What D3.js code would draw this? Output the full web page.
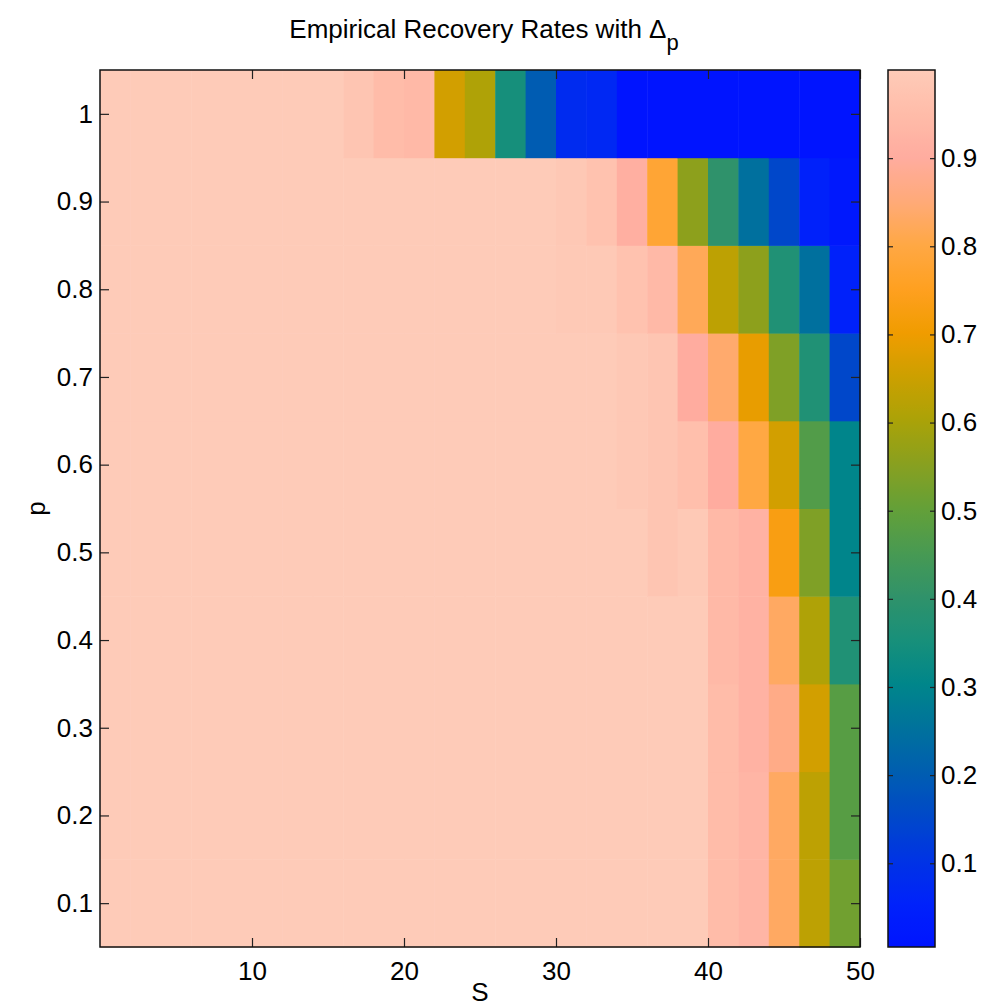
<!DOCTYPE html>
<html>
<head>
<meta charset="utf-8">
<script src="https://cdn.jsdelivr.net/npm/d3@7"></script>
<style>
  body { margin: 0; background: #fff; }
  text { font-family: "Liberation Sans", Arial, Helvetica, sans-serif; fill: #000; }
</style>
</head>
<body>
<script>

// column centres of S (each cell is 2 wide) and the p rows
var sValues = [1, 3, 5, 7, 9, 11, 13, 15, 17, 19, 21, 23, 25, 27, 29, 31, 33, 35, 37, 39, 41, 43, 45, 47, 49];
var pValues = [0.1, 0.2, 0.3, 0.4, 0.5, 0.6, 0.7, 0.8, 0.9, 1.0];

// recovery rates, one array per p, read left to right along S
var rateP01 = [1, 1, 1, 1, 1, 1, 1, 1, 1, 1, 1, 1, 1, 1, 1, 1, 1, 1, 1, 1, 0.95, 0.93, 0.83, 0.63, 0.52];
var rateP02 = [1, 1, 1, 1, 1, 1, 1, 1, 1, 1, 1, 1, 1, 1, 1, 1, 1, 1, 1, 1, 0.95, 0.93, 0.83, 0.63, 0.48];
var rateP03 = [1, 1, 1, 1, 1, 1, 1, 1, 1, 1, 1, 1, 1, 1, 1, 1, 1, 1, 1, 1, 0.95, 0.92, 0.87, 0.66, 0.48];
var rateP04 = [1, 1, 1, 1, 1, 1, 1, 1, 1, 1, 1, 1, 1, 1, 1, 1, 1, 1, 1, 1, 0.94, 0.92, 0.83, 0.61, 0.37];
var rateP05 = [1, 1, 1, 1, 1, 1, 1, 1, 1, 1, 1, 1, 1, 1, 1, 1, 1, 1, 0.98, 0.995, 0.94, 0.92, 0.73, 0.54, 0.30];
var rateP06 = [1, 1, 1, 1, 1, 1, 1, 1, 1, 1, 1, 1, 1, 1, 1, 1, 1, 0.99, 0.98, 0.96, 0.90, 0.80, 0.66, 0.47, 0.30];
var rateP07 = [1, 1, 1, 1, 1, 1, 1, 1, 1, 1, 1, 1, 1, 1, 1, 1, 1, 0.99, 0.98, 0.90, 0.84, 0.69, 0.54, 0.37, 0.15];
var rateP08 = [1, 1, 1, 1, 1, 1, 1, 1, 1, 1, 1, 1, 1, 1, 1, 0.995, 0.995, 0.97, 0.94, 0.82, 0.63, 0.56, 0.37, 0.25, 0.05];
var rateP09 = [1, 1, 1, 1, 1, 1, 1, 1, 1, 1, 1, 1, 1, 1, 1, 0.99, 0.97, 0.91, 0.78, 0.56, 0.40, 0.25, 0.15, 0.05, 0.02];
var rateP10 = [1, 1, 1, 1, 1, 1, 1, 1, 0.98, 0.95, 0.94, 0.66, 0.61, 0.35, 0.20, 0.08, 0.07, 0.005, 0.005, 0.005, 0.005, 0.005, 0.005, 0.005, 0.005];

var rateRows = [rateP01, rateP02, rateP03, rateP04, rateP05, rateP06, rateP07, rateP08, rateP09, rateP10];

// tick labels
var sTicks = [10, 20, 30, 40, 50];
var pTicks = [0.1, 0.2, 0.3, 0.4, 0.5, 0.6, 0.7, 0.8, 0.9, 1];
var cbTicks = [0.1, 0.2, 0.3, 0.4, 0.5, 0.6, 0.7, 0.8, 0.9];

// colormap (blue -> teal -> green -> orange -> peach)
var cmapStops = [0, 0.05, 0.1, 0.15, 0.2, 0.25, 0.3, 0.35, 0.4, 0.45, 0.5, 0.55, 0.6, 0.65, 0.7, 0.75, 0.8, 0.85, 0.9, 0.95, 1];
var cmapColors = ["#0014ff", "#0022fa", "#0034e4", "#0049c8", "#005eb0", "#00729c", "#00868a", "#18907a", "#30926a",
                  "#489a52", "#64a038", "#88a020", "#aaa208", "#cca000", "#f09c00", "#ffa020", "#ffa844", "#ffaa78",
                  "#ffac9f", "#ffbca9", "#fecbb8"];

var margin = {top: 70, left: 100};
var width = 760, height = 877;
var cbX = 888, cbW = 47;

var svg = d3.select("body").append("svg")
    .attr("width", 990)
    .attr("height", 1008);

// flatten to cells
var cells = [];
rateRows.forEach(function(row, i) {
    row.forEach(function(v, j) {
        cells.push({s: sValues[j], p: pValues[i], v: v});
    });
});

var x = d3.scaleLinear().domain([0, 50]).range([0, width]);
var y = d3.scaleLinear().domain([0.05, 1.05]).range([height, 0]);

var extent = d3.extent(cells, function(d) { return d.v; });
var cmap = d3.scaleLinear().domain(cmapStops).range(cmapColors).interpolate(d3.interpolateRgb).clamp(true);
// colour is taken relative to the data range, like imagesc
var norm = d3.scaleLinear().domain(extent).range([0, 1]);

var g = svg.append("g")
    .attr("transform", "translate(" + margin.left + "," + margin.top + ")");

g.selectAll("rect.cell").data(cells).enter()
    .append("rect")
    .attr("class", "cell")
    .attr("x", function(d) { return x(d.s - 1); })
    .attr("y", function(d) { return y(d.p + 0.05); })
    .attr("width", function(d) { return x(d.s + 1) - x(d.s - 1) + 0.5; })
    .attr("height", function(d) { return y(d.p - 0.05) - y(d.p + 0.05) + 0.5; })
    .attr("fill", function(d) { return cmap(norm(d.v)); });

// axes, ticks inside like matlab
function styleAxis(sel) {
    sel.select(".domain").remove();
    sel.selectAll(".tick line").attr("stroke", "#222").attr("stroke-width", 1.2);
    sel.selectAll("text").style("font-size", "26px").attr("fill", "#000");
}

g.append("g")
    .attr("transform", "translate(0," + height + ")")
    .call(d3.axisBottom(x).tickValues(sTicks).tickSize(-9).tickPadding(15))
    .call(styleAxis);

g.append("g")
    .call(d3.axisLeft(y).tickValues(pTicks).tickSize(-9).tickPadding(7).tickFormat(d3.format("~g")))
    .call(styleAxis);

g.append("g")
    .call(d3.axisTop(x).tickValues(sTicks).tickSize(-9).tickFormat(""))
    .call(styleAxis);

g.append("g")
    .attr("transform", "translate(" + width + ",0)")
    .call(d3.axisRight(y).tickValues(pTicks).tickSize(-9).tickFormat(""))
    .call(styleAxis);

g.append("rect")
    .attr("width", width).attr("height", height)
    .attr("fill", "none").attr("stroke", "#111").attr("stroke-width", 1.5);

// title and labels
var title = svg.append("text")
    .attr("x", margin.left + width / 2 + 4)
    .attr("y", 38)
    .attr("text-anchor", "middle")
    .style("font-size", "26px");
title.append("tspan").text("Empirical Recovery Rates with \u0394");
title.append("tspan").attr("dy", 12).style("font-size", "22px").text("p");

svg.append("text")
    .attr("x", margin.left + width / 2)
    .attr("y", 1001)
    .attr("text-anchor", "middle")
    .style("font-size", "26px")
    .text("S");

svg.append("text")
    .attr("transform", "translate(45," + (margin.top + height / 2) + ") rotate(-90)")
    .attr("text-anchor", "middle")
    .style("font-size", "26px")
    .text("p");

// colorbar
var cbY = d3.scaleLinear().domain(extent).range([height, 0]);

var defs = svg.append("defs");
var grad = defs.append("linearGradient")
    .attr("id", "cbgrad")
    .attr("x1", 0).attr("y1", 1).attr("x2", 0).attr("y2", 0);
d3.range(0, 1.0001, 0.01).forEach(function(t) {
    grad.append("stop")
        .attr("offset", t)
        .attr("stop-color", cmap(t));
});

var cb = svg.append("g")
    .attr("transform", "translate(" + cbX + "," + margin.top + ")");

cb.append("rect")
    .attr("width", cbW).attr("height", height)
    .attr("fill", "url(#cbgrad)");

cb.append("g")
    .attr("transform", "translate(" + cbW + ",0)")
    .call(d3.axisRight(cbY).tickValues(cbTicks).tickSize(-5).tickPadding(6).tickFormat(d3.format("~g")))
    .call(styleAxis);

cb.append("g")
    .call(d3.axisLeft(cbY).tickValues(cbTicks).tickSize(-5).tickFormat(""))
    .call(styleAxis);

cb.append("rect")
    .attr("width", cbW).attr("height", height)
    .attr("fill", "none").attr("stroke", "#111").attr("stroke-width", 1.5);

</script>
</body>
</html>
